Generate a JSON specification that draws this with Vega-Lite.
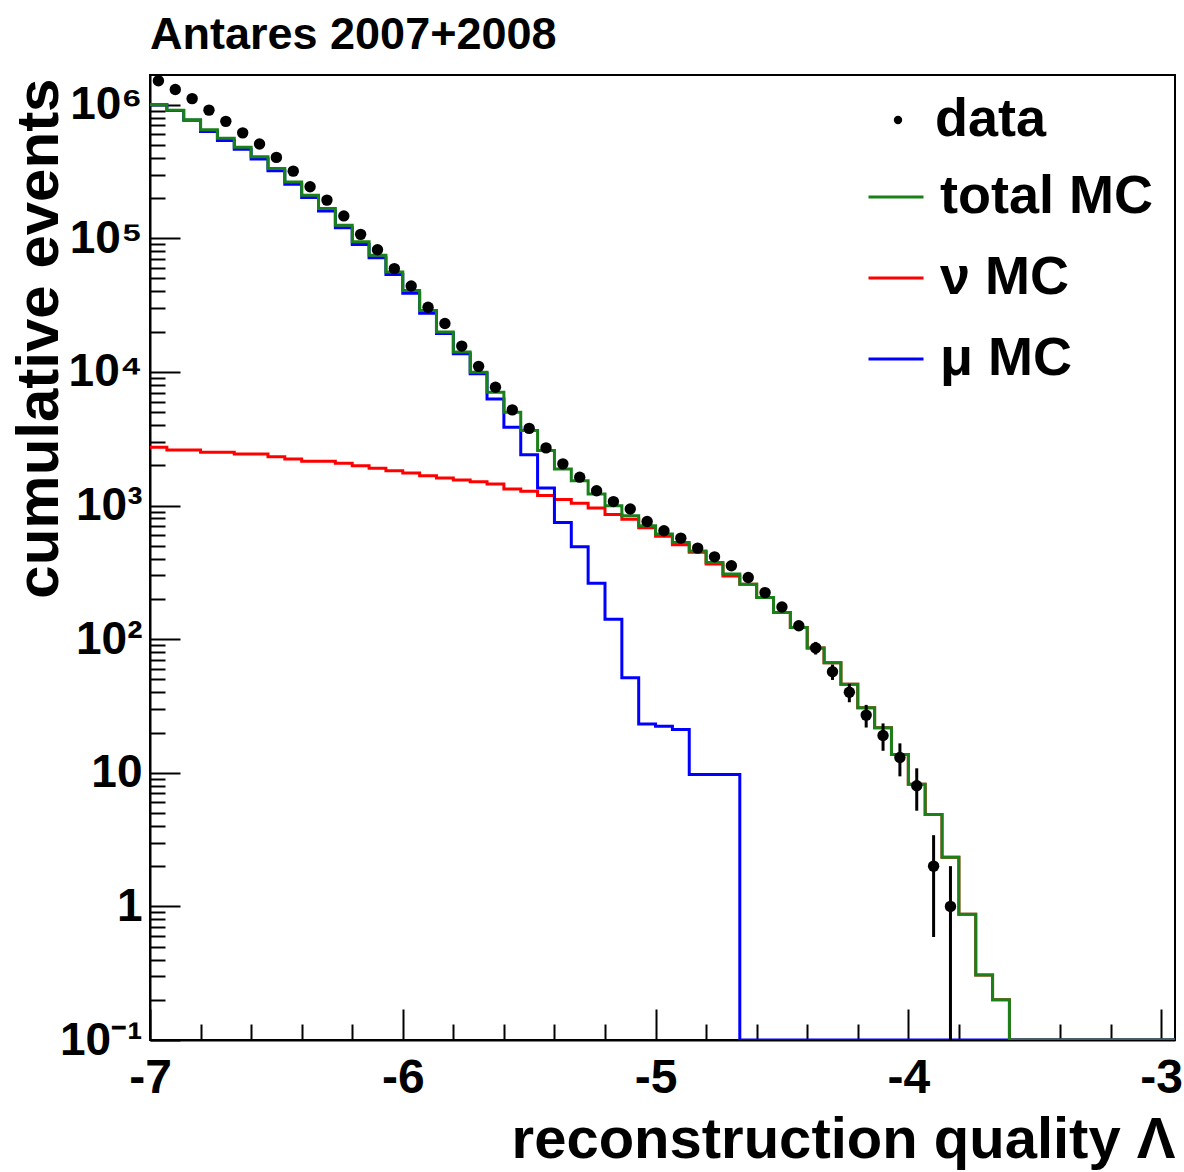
{
  "$schema": "https://vega.github.io/schema/vega-lite/v6.json",
  "width": 1025,
  "height": 965,
  "autosize": {"type": "none"},
  "padding": {"left": 150, "top": 75, "right": 9, "bottom": 132},
  "background": "white",
  "config": {
    "view": {"stroke": "black", "strokeWidth": 2},
    "font": "Liberation Sans",
    "axis": {"grid": false}
  },
  "title": {
    "text": "Antares 2007+2008",
    "anchor": "start",
    "frame": "group",
    "font": "Liberation Sans",
    "fontSize": 45,
    "fontWeight": "bold",
    "color": "black",
    "baseline": "alphabetic",
    "offset": -19
  },
  "datasets": {
    "h": [
      {"x": -7, "xc": -6.9667, "data": 1510000, "total": 1000000, "nu": 2726, "mu": 997000},
      {"x": -6.9333, "xc": -6.9, "data": 1300000, "total": 910000, "nu": 2606, "mu": 905000},
      {"x": -6.8667, "xc": -6.8333, "data": 1110000, "total": 770000, "nu": 2606, "mu": 765000},
      {"x": -6.8, "xc": -6.7667, "data": 910000, "total": 650000, "nu": 2500, "mu": 630000},
      {"x": -6.7333, "xc": -6.7, "data": 750000, "total": 560000, "nu": 2500, "mu": 540000},
      {"x": -6.6667, "xc": -6.6333, "data": 615000, "total": 480000, "nu": 2432, "mu": 463000},
      {"x": -6.6, "xc": -6.5667, "data": 507000, "total": 407000, "nu": 2432, "mu": 392000},
      {"x": -6.5333, "xc": -6.5, "data": 403000, "total": 333000, "nu": 2322, "mu": 320000},
      {"x": -6.4667, "xc": -6.4333, "data": 318000, "total": 264000, "nu": 2233, "mu": 254000},
      {"x": -6.4, "xc": -6.3667, "data": 243000, "total": 210000, "nu": 2143, "mu": 202000},
      {"x": -6.3333, "xc": -6.3, "data": 193000, "total": 167000, "nu": 2143, "mu": 160000},
      {"x": -6.2667, "xc": -6.2333, "data": 147000, "total": 125000, "nu": 2070, "mu": 120000},
      {"x": -6.2, "xc": -6.1667, "data": 107000, "total": 94000, "nu": 1988, "mu": 90000},
      {"x": -6.1333, "xc": -6.1, "data": 82000, "total": 74600, "nu": 1897, "mu": 71500},
      {"x": -6.0667, "xc": -6.0333, "data": 59300, "total": 55900, "nu": 1824, "mu": 53600},
      {"x": -6, "xc": -5.9667, "data": 43900, "total": 40700, "nu": 1753, "mu": 38700},
      {"x": -5.9333, "xc": -5.9, "data": 30500, "total": 28800, "nu": 1673, "mu": 27500},
      {"x": -5.8667, "xc": -5.8333, "data": 23000, "total": 19900, "nu": 1607, "mu": 19400},
      {"x": -5.8, "xc": -5.7667, "data": 15600, "total": 14100, "nu": 1553, "mu": 13700},
      {"x": -5.7333, "xc": -5.7, "data": 11000, "total": 9950, "nu": 1508, "mu": 9700},
      {"x": -5.6667, "xc": -5.6333, "data": 7680, "total": 7050, "nu": 1449, "mu": 6280},
      {"x": -5.6, "xc": -5.5667, "data": 5200, "total": 4990, "nu": 1329, "mu": 3850},
      {"x": -5.5333, "xc": -5.5, "data": 3780, "total": 3640, "nu": 1276, "mu": 2400},
      {"x": -5.4667, "xc": -5.4333, "data": 2700, "total": 2580, "nu": 1190, "mu": 1350},
      {"x": -5.4, "xc": -5.3667, "data": 2050, "total": 1880, "nu": 1110, "mu": 747},
      {"x": -5.3333, "xc": -5.3, "data": 1630, "total": 1530, "nu": 1039, "mu": 491},
      {"x": -5.2667, "xc": -5.2333, "data": 1290, "total": 1220, "nu": 958, "mu": 262},
      {"x": -5.2, "xc": -5.1667, "data": 1070, "total": 997, "nu": 856, "mu": 141},
      {"x": -5.1333, "xc": -5.1, "data": 942, "total": 839, "nu": 788, "mu": 51.4},
      {"x": -5.0667, "xc": -5.0333, "data": 760, "total": 706, "nu": 683, "mu": 23.2},
      {"x": -5, "xc": -4.9667, "data": 648, "total": 611, "nu": 589, "mu": 22.3},
      {"x": -4.9333, "xc": -4.9, "data": 570, "total": 529, "nu": 508, "mu": 21.1},
      {"x": -4.8667, "xc": -4.8333, "data": 480, "total": 457, "nu": 447, "mu": 9.7},
      {"x": -4.8, "xc": -4.7667, "data": 413, "total": 375, "nu": 365, "mu": 9.7},
      {"x": -4.7333, "xc": -4.7, "data": 354, "total": 307, "nu": 297, "mu": 9.7},
      {"x": -4.6667, "xc": -4.6333, "data": 289, "total": 258, "nu": 258, "mu": 0.1, "lo": 272, "hi": 306},
      {"x": -4.6, "xc": -4.5667, "data": 223, "total": 205, "nu": 205, "mu": 0.1, "lo": 208, "hi": 238},
      {"x": -4.5333, "xc": -4.5, "data": 174, "total": 158, "nu": 158, "mu": 0.1, "lo": 161, "hi": 187},
      {"x": -4.4667, "xc": -4.4333, "data": 126, "total": 122, "nu": 122, "mu": 0.1, "lo": 115, "hi": 137},
      {"x": -4.4, "xc": -4.3667, "data": 86, "total": 86, "nu": 86, "mu": 0.1, "lo": 76.7, "hi": 95.3},
      {"x": -4.3333, "xc": -4.3, "data": 57, "total": 66.7, "nu": 66.7, "mu": 0.1, "lo": 49.5, "hi": 64.5},
      {"x": -4.2667, "xc": -4.2333, "data": 40, "total": 45.9, "nu": 45.9, "mu": 0.1, "lo": 33.7, "hi": 46.3},
      {"x": -4.2, "xc": -4.1667, "data": 27, "total": 30.7, "nu": 30.7, "mu": 0.1, "lo": 21.8, "hi": 32.2},
      {"x": -4.1333, "xc": -4.1, "data": 19, "total": 21.7, "nu": 21.7, "mu": 0.1, "lo": 14.6, "hi": 23.4},
      {"x": -4.0667, "xc": -4.0333, "data": 13, "total": 13.7, "nu": 13.7, "mu": 0.1, "lo": 9.4, "hi": 16.6},
      {"x": -4, "xc": -3.9667, "data": 8, "total": 8.2, "nu": 8.2, "mu": 0.1, "lo": 5.2, "hi": 10.8},
      {"x": -3.9333, "xc": -3.9, "data": 2, "total": 4.87, "nu": 4.87, "mu": 0.1, "lo": 0.59, "hi": 3.41},
      {"x": -3.8667, "xc": -3.8333, "data": 1, "total": 2.33, "nu": 2.33, "mu": 0.1, "lo": 0.1, "hi": 2},
      {"x": -3.8, "xc": -3.7667, "total": 0.875, "nu": 0.875, "mu": 0.1},
      {"x": -3.7333, "xc": -3.7, "total": 0.307, "nu": 0.307, "mu": 0.1},
      {"x": -3.6667, "xc": -3.6333, "total": 0.2, "nu": 0.2, "mu": 0.1},
      {"x": -3.6, "xc": -3.5667, "total": 0.1, "nu": 0.1, "mu": 0.1},
      {"x": -3.5333, "xc": -3.5, "total": 0.1, "nu": 0.1, "mu": 0.1},
      {"x": -3.4667, "xc": -3.4333, "total": 0.1, "nu": 0.1, "mu": 0.1},
      {"x": -3.4, "xc": -3.3667, "total": 0.1, "nu": 0.1, "mu": 0.1},
      {"x": -3.3333, "xc": -3.3, "total": 0.1, "nu": 0.1, "mu": 0.1},
      {"x": -3.2667, "xc": -3.2333, "total": 0.1, "nu": 0.1, "mu": 0.1},
      {"x": -3.2, "xc": -3.1667, "total": 0.1, "nu": 0.1, "mu": 0.1},
      {"x": -3.1333, "xc": -3.1, "total": 0.1, "nu": 0.1, "mu": 0.1},
      {"x": -3.0667, "xc": -3.0333, "total": 0.1, "nu": 0.1, "mu": 0.1},
      {"x": -3, "xc": -2.9667, "total": 0.1, "nu": 0.1, "mu": 0.1},
      {"x": -2.9333, "total": 0.1, "nu": 0.1, "mu": 0.1}
    ]
  },
  "data": {"name": "h"},
  "layer": [
    {
      "mark": {"type": "line", "interpolate": "step-after", "strokeWidth": 3, "clip": true},
      "encoding": {
        "x": {"field": "x", "type": "quantitative", "scale": {"domain": [-7, -2.945], "nice": false, "zero": false},
          "axis": {"title": "reconstruction quality Λ", "values": [-7,-6.8,-6.6,-6.4,-6.2,-6,-5.8,-5.6,-5.4,-5.2,-5,-4.8,-4.6,-4.4,-4.2,-4,-3.8,-3.6,-3.4,-3.2,-3],
            "labelExpr": "abs(datum.value - round(datum.value)) < 0.001 ? '' + round(datum.value) : ''",
            "tickSize": {"condition": {"test": "abs(datum.value - round(datum.value)) < 0.001", "value": -31}, "value": -16},
            "tickColor": "black", "tickWidth": 2, "domainColor": "black", "domainWidth": 2,
            "labelFont": "Liberation Sans", "labelFontWeight": "bold", "labelFontSize": 48, "labelColor": "black",
            "labelPadding": 45, "labelBaseline": "top", "labelFlush": false, "labelOverlap": false, "labelBound": false,
            "titleFont": "Liberation Sans", "titleFontSize": 58, "titleFontWeight": "bold", "titleColor": "black",
            "titleAlign": "right", "titleX": 1025, "titleY": 117, "titleBaseline": "alphabetic"}},
        "y": {"field": "nu", "type": "quantitative", "scale": {"type": "log", "domain": [0.1, 1667000], "nice": false},
          "axis": {"title": "cumulative events",
            "values": [0.1,0.2,0.3,0.4,0.5,0.6,0.7,0.8,0.9,1,2,3,4,5,6,7,8,9,10,20,30,40,50,60,70,80,90,100,200,300,400,500,600,700,800,900,1000,2000,3000,4000,5000,6000,7000,8000,9000,10000,20000,30000,40000,50000,60000,70000,80000,90000,100000,200000,300000,400000,500000,600000,700000,800000,900000,1000000],
            "labelExpr": "datum.value == 0.1 ? '10⁻¹' : datum.value == 1 ? '1' : datum.value == 10 ? '10' : datum.value == 100 ? '10²' : datum.value == 1000 ? '10³' : datum.value == 10000 ? '10⁴' : datum.value == 100000 ? '10⁵' : datum.value == 1000000 ? '10⁶' : ''",
            "tickSize": {"condition": {"test": "indexof([0.1,1,10,100,1000,10000,100000,1000000], datum.value) >= 0", "value": -30}, "value": -15},
            "tickColor": "black", "tickWidth": 2, "domainColor": "black", "domainWidth": 2,
            "labelFont": "Liberation Sans", "labelFontWeight": "bold", "labelFontSize": 46, "labelColor": "black",
            "labelPadding": 38, "labelFlush": false, "labelOverlap": false, "labelBound": false,
            "titleFont": "Liberation Sans", "titleFontSize": 60, "titleFontWeight": "bold", "titleColor": "black",
            "titleAngle": -90, "titleAlign": "right", "titleX": -93, "titleY": 3, "titleBaseline": "alphabetic"}},
        "stroke": {"datum": "ν MC", "type": "nominal",
          "scale": {"domain": ["total MC", "ν MC", "μ MC"], "range": ["#1a801a", "#ff0000", "#0000ff"]},
          "legend": {"orient": "none", "legendX": 717, "legendY": 93, "title": null, "padding": 0,
            "labelFont": "Liberation Sans", "labelFontSize": 54, "labelFontWeight": "bold", "labelColor": "black",
            "labelOffset": 15, "labelLimit": 500, "symbolType": "stroke", "symbolSize": 3025, "symbolStrokeWidth": 3, "rowPadding": 25}}
      }
    },
    {
      "mark": {"type": "line", "interpolate": "step-after", "strokeWidth": 3, "clip": true},
      "encoding": {
        "x": {"field": "x", "type": "quantitative", "title": "reconstruction quality Λ"},
        "y": {"field": "mu", "type": "quantitative", "title": "cumulative events"},
        "stroke": {"datum": "μ MC", "type": "nominal"}
      }
    },
    {
      "mark": {"type": "line", "interpolate": "step-after", "strokeWidth": 3, "clip": true},
      "encoding": {
        "x": {"field": "x", "type": "quantitative", "title": "reconstruction quality Λ"},
        "y": {"field": "total", "type": "quantitative", "title": "cumulative events"},
        "stroke": {"datum": "total MC", "type": "nominal"}
      }
    },
    {
      "transform": [{"filter": "datum.lo != null"}],
      "mark": {"type": "rule", "strokeWidth": 3, "color": "black", "clip": true},
      "encoding": {
        "x": {"field": "xc", "type": "quantitative", "title": "reconstruction quality Λ"},
        "y": {"field": "lo", "type": "quantitative", "title": "cumulative events"},
        "y2": {"field": "hi"}
      }
    },
    {
      "transform": [{"filter": "datum.data != null"}],
      "mark": {"type": "point", "filled": true, "shape": "circle", "size": 130, "opacity": 1, "clip": true},
      "encoding": {
        "x": {"field": "xc", "type": "quantitative", "title": "reconstruction quality Λ"},
        "y": {"field": "data", "type": "quantitative", "title": "cumulative events"},
        "fill": {"datum": "data", "type": "nominal",
          "scale": {"domain": ["data"], "range": ["black"]},
          "legend": {"orient": "none", "legendX": 721, "legendY": 18, "title": null, "padding": 0,
            "labelFont": "Liberation Sans", "labelFontSize": 54, "labelFontWeight": "bold", "labelColor": "black",
            "labelOffset": 10, "labelLimit": 500, "symbolType": "circle", "symbolSize": 70, "symbolStrokeWidth": 0}}
      }
    }
  ]
}
